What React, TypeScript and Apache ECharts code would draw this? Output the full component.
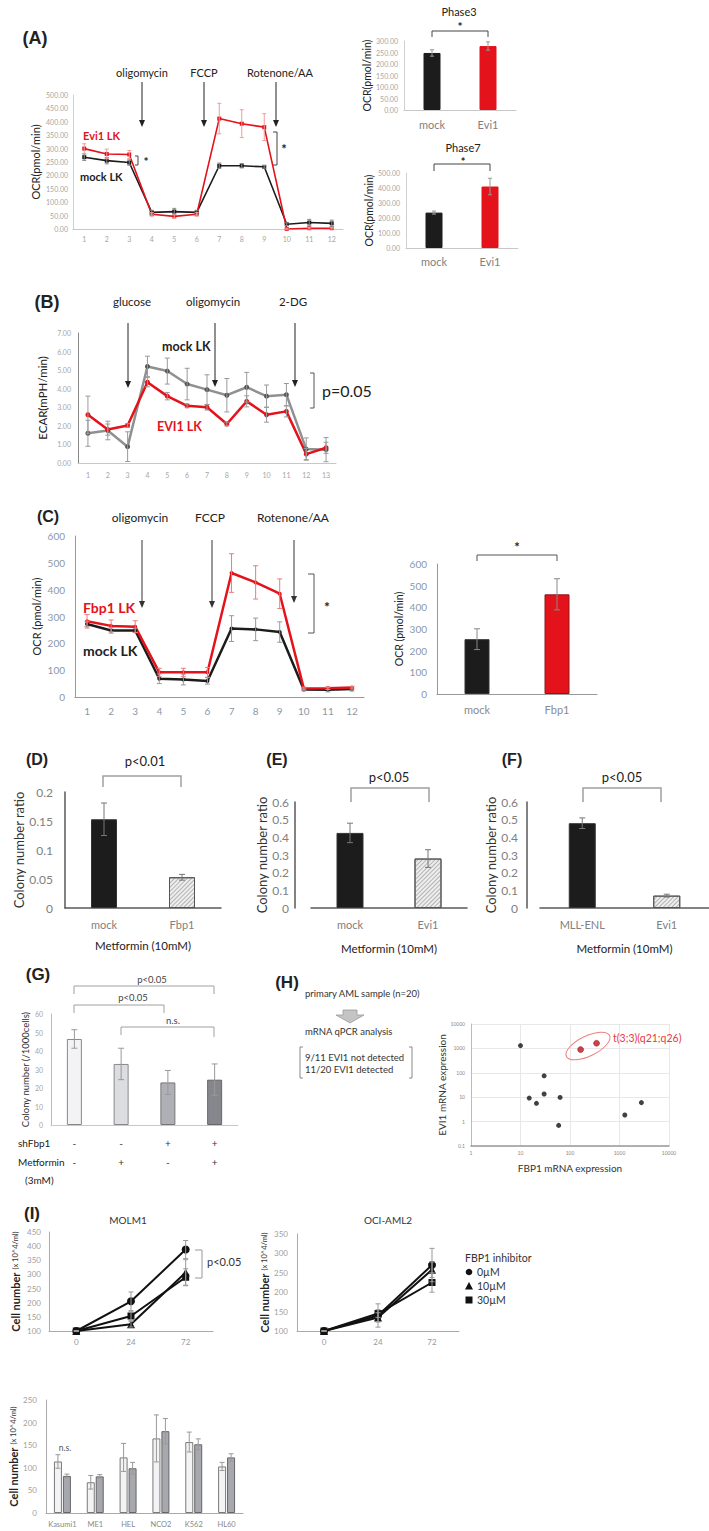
import React, { useEffect, useRef } from "react";
import * as echarts from "echarts";

const FONT = "Lato, 'Open Sans', 'Liberation Sans', sans-serif";
const HEAD = "'Liberation Sans', Arial, sans-serif";
const RED = "#e3121b";
const BLK = "#1c1c1c";

// ---------- (A) ----------
const aTimes = ["1", "2", "3", "4", "5", "6", "7", "8", "9", "10", "11", "12"];
const aEvi = [300, 280, 278, 55, 47, 55, 412, 393, 380, 0, 3, 3];
const aEviErr = [18, 18, 15, 6, 6, 6, 57, 52, 50, 3, 3, 3];
const aMock = [268, 255, 248, 62, 65, 62, 236, 236, 232, 18, 24, 21];
const aMockErr = [12, 12, 10, 8, 12, 8, 10, 8, 5, 5, 12, 12];
const phaseCats = ["mock", "Evi1"];
const phase3 = [248, 278];
const phase3Err = [14, 18];
const phase7 = [236, 410];
const phase7Err = [10, 55];

// ---------- (B) ----------
const bTimes = ["1", "2", "3", "4", "5", "6", "7", "8", "9", "10", "11", "12", "13"];
const bMock = [1.6, 1.75, 0.88, 5.2, 4.95, 4.25, 3.95, 3.65, 4.08, 3.6, 3.68, 0.75, 0.72];
const bMockErr = [0.7, 0.5, 0.8, 0.55, 0.7, 0.85, 0.8, 0.9, 0.8, 0.6, 0.6, 0.6, 0.65];
const bEvi = [2.6, 1.8, 2.02, 4.35, 3.6, 3.08, 3.0, 2.1, 3.32, 2.6, 2.78, 0.48, 0.82];
const bEviErr = [1.0, 0.3, 0.1, 0.25, 0.2, 0.1, 0.15, 0.1, 0.3, 0.4, 0.3, 0.3, 0.3];

// ---------- (C) ----------
const cTimes = ["1", "2", "3", "4", "5", "6", "7", "8", "9", "10", "11", "12"];
const cFbp = [282, 265, 262, 92, 92, 92, 462, 427, 385, 32, 33, 35];
const cFbpErr = [25, 22, 22, 15, 15, 18, 72, 62, 55, 5, 5, 5];
const cMock = [272, 248, 248, 68, 65, 60, 255, 252, 242, 28, 27, 30];
const cMockErr = [10, 10, 8, 18, 20, 12, 48, 42, 38, 5, 8, 8];
const cBarCats = ["mock", "Fbp1"];
const cBar = [253, 460];
const cBarErr = [48, 72];

// ---------- (D)(E)(F) ----------
const dCats = ["mock", "Fbp1"];
const dVals = [0.153, 0.053];
const dErr = [0.028, 0.005];
const eCats = ["mock", "Evi1"];
const eVals = [0.425, 0.28];
const eErr = [0.055, 0.05];
const fCats = ["MLL-ENL", "Evi1"];
const fVals = [0.48, 0.07];
const fErr = [0.03, 0.008];

// ---------- (G) ----------
const gGroups = ["control", "Metformin", "shFbp1", "shFbp1+Metformin"];
const gVals = [46.5, 33, 23, 24.5];
const gErr = [5, 8.5, 6.5, 8.5];
const gShFbp1 = ["-", "-", "+", "+"];
const gMet = ["-", "+", "-", "+"];

// ---------- (H) ----------
const hFbp1 = [10, 15, 21, 30, 30, 59, 63, 1280, 2770];
const hEvi1 = [1300, 9.2, 5.6, 75, 13.5, 0.7, 9.8, 1.87, 6];
const hRedFbp1 = [164, 344];
const hRedEvi1 = [896, 1625];

// ---------- (I) ----------
const iTimes = ["0", "24", "72"];
const molm0 = [100, 205, 388];
const molm0Err = [0, 33, 32];
const molm10 = [100, 124, 307];
const molm10Err = [0, 10, 45];
const molm30 = [100, 153, 290];
const molm30Err = [0, 15, 30];
const oci0 = [100, 140, 270];
const oci0Err = [0, 30, 43];
const oci10 = [100, 135, 258];
const oci10Err = [0, 12, 20];
const oci30 = [100, 145, 225];
const oci30Err = [0, 10, 25];
const lineCats = ["Kasumi1", "ME1", "HEL", "NCO2", "K562", "HL60"];
const ctrlVals = [114, 68, 123, 165, 157, 103];
const ctrlErr = [15, 15, 31, 52, 22, 9];
const inhVals = [82, 81, 99, 181, 152, 123];
const inhErr = [4, 4, 13, 28, 12, 8];

// ---------- helpers ----------
function catX(gi: number, data: string[], o: any) {
  return {
    type: "category",
    gridIndex: gi,
    data,
    axisTick: { show: false },
    axisLine: { lineStyle: { color: o.line || "#bbb", width: o.lw || 1 } },
    axisLabel: {
      fontSize: o.size,
      color: o.color,
      margin: o.margin,
      fontFamily: FONT,
      interval: 0,
      lineHeight: o.lineHeight,
      formatter: o.formatter,
    },
    name: o.name,
    nameLocation: "middle",
    nameGap: o.nameGap,
    nameTextStyle: { fontSize: o.nameSize || 11, color: "#222", fontFamily: FONT },
  };
}

function valY(gi: number, min: number, max: number, interval: number, o: any) {
  return {
    type: "value",
    gridIndex: gi,
    min,
    max,
    interval,
    offset: o.offset || 0,
    splitLine: { show: false },
    axisTick: { show: false },
    axisLine: { show: true, lineStyle: { color: o.line || "#bbb", width: o.lw || 1 } },
    axisLabel: {
      fontSize: o.size,
      color: o.color,
      margin: o.margin,
      fontFamily: FONT,
      formatter: o.formatter,
    },
    name: o.name,
    nameLocation: "middle",
    nameGap: o.nameGap,
    nameTextStyle: o.nameStyle || { fontSize: o.nameSize || 11, color: "#222", fontFamily: FONT },
  };
}

function errBars(gi: number, vals: number[], errs: number[], color: string, offset = 0, cap = 3, width = 1) {
  return {
    type: "custom",
    xAxisIndex: gi,
    yAxisIndex: gi,
    z: 4,
    silent: true,
    clip: false,
    data: vals.map((v, i) => [i, v, errs[i]]),
    renderItem: (_p: any, api: any) => {
      const i = api.value(0);
      const v = api.value(1);
      const e = api.value(2);
      const t = api.coord([i, v + e]);
      const b = api.coord([i, v - e]);
      const x = t[0] + offset;
      const st = { stroke: color, lineWidth: width };
      return {
        type: "group",
        children: [
          { type: "line", shape: { x1: x, y1: t[1], x2: x, y2: b[1] }, style: st },
          { type: "line", shape: { x1: x - cap, y1: t[1], x2: x + cap, y2: t[1] }, style: st },
          { type: "line", shape: { x1: x - cap, y1: b[1], x2: x + cap, y2: b[1] }, style: st },
        ],
      };
    },
  };
}

function lineS(gi: number, name: string, data: number[], color: string, width: number, symbol: string, size: number, symColor?: string) {
  return {
    type: "line",
    name,
    xAxisIndex: gi,
    yAxisIndex: gi,
    data,
    symbol,
    symbolSize: size,
    showSymbol: true,
    lineStyle: { color, width },
    itemStyle: { color: symColor || color },
    z: 3,
  };
}

function barS(gi: number, name: string, data: number[], styles: any[], barWidth: number, extra: any = {}) {
  return {
    type: "bar",
    name,
    xAxisIndex: gi,
    yAxisIndex: gi,
    barWidth,
    data: data.map((v, i) => ({ value: v, itemStyle: styles[i] })),
    z: 2,
    ...extra,
  };
}

function T(x: number, y: number, text: string, o: any = {}) {
  const align = o.align || "center";
  return {
    type: "text",
    x,
    y,
    rotation: o.rot || 0,
    z: 10,
    style: {
      text,
      fill: o.color || "#222",
      fontSize: o.size || 11,
      fontWeight: o.weight || "normal",
      fontFamily: o.family || FONT,
      textAlign: align,
      align,
      textVerticalAlign: "middle",
      verticalAlign: "middle",
    },
  };
}

function PL(pts: number[][], color = "#333", w = 1) {
  return { type: "polyline", z: 10, shape: { points: pts }, style: { stroke: color, lineWidth: w, fill: null } };
}

function arrow(x: number, y1: number, y2: number, color = "#222") {
  return [
    { type: "line", z: 10, shape: { x1: x, y1, x2: x, y2: y2 - 5 }, style: { stroke: color, lineWidth: 1 } },
    { type: "polygon", z: 10, shape: { points: [[x - 3, y2 - 7], [x + 3, y2 - 7], [x, y2]] }, style: { fill: color } },
  ];
}

const fixed2 = (v: number) => v.toFixed(2);

function buildOption() {
  const grid = [
    [73, 95, 270, 134],
    [404, 41, 112, 69],
    [406, 173, 112, 75],
    [78, 333, 258, 130],
    [75, 536, 289, 161],
    [437, 564, 160, 130],
    [65, 792, 156, 116],
    [311, 802, 156, 106],
    [540, 802, 170, 106],
    [51, 1014, 187, 111],
    [471, 1024, 198, 122],
    [49, 1232, 164, 99],
    [297, 1234, 162, 97],
    [46, 1400, 197, 113],
  ].map(([left, top, width, height]) => ({ left, top, width, height }));

  const dfLine = { line: "#595959", lw: 1.5 };
  const xAxis: any[] = [
    catX(0, aTimes, { size: 7, color: "#a6a6a6", margin: 6, line: "#c8c8c8" }),
    catX(1, phaseCats, { size: 11, color: "#7f7f7f", margin: 9, line: "#c8c8c8" }),
    catX(2, phaseCats, { size: 11, color: "#7f7f7f", margin: 8, line: "#c8c8c8" }),
    catX(3, bTimes, { size: 7, color: "#a6a6a6", margin: 8, line: "#c8c8c8" }),
    catX(4, cTimes, { size: 10, color: "#8a98a8", margin: 9, line: "#999" }),
    catX(5, cBarCats, { size: 11, color: "#8a8a8a", margin: 10, line: "#999" }),
    catX(6, dCats, { size: 11, color: "#808080", margin: 11, ...dfLine, name: "Metformin (10mM)", nameGap: 31, nameSize: 11.5 }),
    catX(7, eCats, { size: 11, color: "#808080", margin: 11, ...dfLine, name: "Metformin (10mM)", nameGap: 34, nameSize: 11.5 }),
    catX(8, fCats, { size: 11, color: "#808080", margin: 11, ...dfLine, name: "Metformin (10mM)", nameGap: 34, nameSize: 11.5 }),
    catX(9, gGroups, {
      size: 10,
      color: "#333",
      margin: 8,
      line: "#c8c8c8",
      lineHeight: 19,
      formatter: (_v: string, i: number) => `${gShFbp1[i]}\n${gMet[i]}`,
    }),
    {
      type: "log",
      logBase: 10,
      gridIndex: 10,
      min: 1,
      max: 10000,
      axisTick: { show: false },
      axisLine: { lineStyle: { color: "#999", width: 1.5 } },
      splitLine: { show: true, lineStyle: { color: "#e8e8e8" } },
      axisLabel: { fontSize: 5, color: "#888", margin: 4, formatter: (v: number) => String(Number(v.toPrecision(6))) },
      name: "FBP1 mRNA expression",
      nameLocation: "middle",
      nameGap: 17,
      nameTextStyle: { fontSize: 10, color: "#333", fontFamily: FONT },
    },
    catX(11, iTimes, { size: 8, color: "#999", margin: 7, line: "#aaa" }),
    catX(12, iTimes, { size: 8, color: "#999", margin: 7, line: "#aaa" }),
    catX(13, lineCats, { size: 7.5, color: "#888", margin: 7, line: "#aaa" }),
  ];

  const ocrName = { fontSize: 11, color: "#222", fontFamily: FONT };
  const colName = { fontSize: 13, color: "#333", fontFamily: FONT };
  const cellName = {
    rich: {
      a: { fontSize: 11, fontWeight: "bold", color: "#222", fontFamily: FONT },
      b: { fontSize: 7.5, color: "#333", fontFamily: FONT },
    },
  };
  const yAxis: any[] = [
    valY(0, 0, 500, 50, { size: 7, color: "#a6a6a6", margin: 5, line: "#d0d0d0", formatter: fixed2, name: "OCR(pmol/min)", nameGap: 32, nameStyle: ocrName }),
    valY(1, 0, 300, 50, { size: 7, color: "#a6a6a6", margin: 6, line: "#d0d0d0", formatter: fixed2, name: "OCR(pmol/min)", nameGap: 20, nameStyle: { ...ocrName, fontSize: 10.5 } }),
    valY(2, 0, 500, 100, { size: 7, color: "#a6a6a6", margin: 6, line: "#d0d0d0", formatter: fixed2, name: "OCR(pmol/min)", nameGap: 30, nameStyle: { ...ocrName, fontSize: 10.5 } }),
    valY(3, 0, 7, 1, { size: 7, color: "#a6a6a6", margin: 7, line: "#888", formatter: fixed2, name: "ECAR(mPH/min)", nameGap: 30, nameStyle: { ...ocrName, fontSize: 11.5 } }),
    valY(4, 0, 600, 100, { size: 10, color: "#8a98a8", margin: 10, line: "#999", name: "OCR (pmol/min)", nameGap: 33, nameStyle: ocrName }),
    valY(5, 0, 600, 100, { size: 10, color: "#8a98a8", margin: 10, line: "#999", name: "OCR (pmol/min)", nameGap: 33, nameStyle: { ...ocrName, fontSize: 10.5 } }),
    valY(6, 0, 0.2, 0.05, { size: 12, color: "#808080", margin: 12, ...dfLine, name: "Colony number ratio", nameGap: 36, nameStyle: colName }),
    valY(7, 0, 0.6, 0.1, { size: 12, color: "#808080", margin: 6, offset: 16, ...dfLine, name: "Colony number ratio", nameGap: 19, nameStyle: colName }),
    valY(8, 0, 0.6, 0.1, { size: 12, color: "#808080", margin: 9, offset: 13, ...dfLine, name: "Colony number ratio", nameGap: 13, nameStyle: colName }),
    valY(9, 0, 60, 10, { size: 7, color: "#a6a6a6", margin: 8, line: "#bbb", name: "Colony number (/1000cells)", nameGap: 21, nameStyle: { fontSize: 9.5, color: "#333", fontFamily: FONT } }),
    {
      type: "log",
      logBase: 10,
      gridIndex: 10,
      min: 0.1,
      max: 10000,
      axisTick: { show: false },
      axisLine: { show: true, lineStyle: { color: "#bbb" } },
      splitLine: { show: true, lineStyle: { color: "#e8e8e8" } },
      axisLabel: { fontSize: 5, color: "#888", margin: 6, formatter: (v: number) => String(Number(v.toPrecision(6))) },
      name: "EVI1 mRNA expression",
      nameLocation: "middle",
      nameGap: 17,
      nameTextStyle: { fontSize: 10, color: "#333", fontFamily: FONT },
    },
    valY(11, 100, 450, 50, { size: 8, color: "#a0a0a0", margin: 8, line: "#aaa", name: "{a|Cell number} {b|(x 10^4/ml)}", nameGap: 28, nameStyle: cellName }),
    valY(12, 100, 350, 50, { size: 8, color: "#a0a0a0", margin: 9, line: "#aaa", name: "{a|Cell number} {b|(x 10^4/ml)}", nameGap: 26, nameStyle: cellName }),
    valY(13, 0, 250, 50, { size: 8, color: "#a0a0a0", margin: 9, line: "#aaa", name: "{a|Cell number} {b|(x 10^4/ml)}", nameGap: 25, nameStyle: cellName }),
  ];

  const solid = (c: string, b?: string) => ({ color: c, borderColor: b || c, borderWidth: 1 });
  const hatch = {
    color: "#eeeeee",
    borderColor: "#555",
    borderWidth: 1,
    decal: {
      symbol: "rect",
      symbolSize: 1,
      dashArrayX: [1, 0],
      dashArrayY: [1, 2],
      rotation: -Math.PI / 4,
      color: "rgba(130,130,130,0.55)",
    },
  };
  const lightBar = solid("#f3f3f5", "#7a7a7a");
  const darkBar = solid("#a6a8ae", "#666");

  const series: any[] = [
    // A line
    errBars(0, aMock, aMockErr, "#888", 0, 2),
    errBars(0, aEvi, aEviErr, "#f29a9a", 0, 2),
    lineS(0, "mock LK", aMock, BLK, 1.6, "rect", 4),
    lineS(0, "Evi1 LK", aEvi, RED, 1.6, "rect", 4),
    // Phase3 / Phase7
    barS(1, "Phase3", phase3, [solid(BLK), solid(RED)], 17),
    errBars(1, phase3, phase3Err, "#999", 0, 2),
    barS(2, "Phase7", phase7, [solid(BLK), solid(RED)], 17),
    errBars(2, phase7, phase7Err, "#999", 0, 2),
    // B
    errBars(3, bMock, bMockErr, "#9a9a9a", 0, 2.5),
    errBars(3, bEvi, bEviErr, "#9a9a9a", 0, 2.5),
    lineS(3, "mock LK", bMock, "#909090", 2.5, "circle", 5, "#555"),
    lineS(3, "EVI1 LK", bEvi, RED, 2.5, "circle", 5),
    // C
    errBars(4, cMock, cMockErr, "#999", 0, 2.5),
    errBars(4, cFbp, cFbpErr, "#f07a7a", 0, 2.5),
    lineS(4, "mock LK", cMock, BLK, 2.5, "circle", 4),
    lineS(4, "Fbp1 LK", cFbp, RED, 2.5, "circle", 4),
    barS(5, "OCR", cBar, [solid(BLK, "#333"), solid(RED, "#8a1a1a")], 25),
    errBars(5, cBar, cBarErr, "#888", 0, 3),
    // D E F
    barS(6, "ratio", dVals, [solid(BLK, "#333"), hatch], 26),
    errBars(6, dVals, dErr, "#777", 0, 3),
    barS(7, "ratio", eVals, [solid(BLK, "#333"), hatch], 27),
    errBars(7, eVals, eErr, "#777", 0, 3),
    barS(8, "ratio", fVals, [solid(BLK, "#333"), hatch], 27),
    errBars(8, fVals, fErr, "#777", 0, 3),
    // G
    barS(9, "colonies", gVals, [solid("#f3f3f5", "#888"), solid("#dcdde1", "#888"), solid("#aeb0b6", "#777"), solid("#85878d", "#666")], 15),
    errBars(9, gVals, gErr, "#999", 0, 3),
    // H
    {
      type: "scatter",
      name: "AML",
      xAxisIndex: 10,
      yAxisIndex: 10,
      data: hFbp1.map((x, i) => [x, hEvi1[i]]),
      symbolSize: 5,
      itemStyle: { color: "#111" },
    },
    {
      type: "scatter",
      name: "t(3;3)",
      xAxisIndex: 10,
      yAxisIndex: 10,
      data: hRedFbp1.map((x, i) => [x, hRedEvi1[i]]),
      symbolSize: 6,
      itemStyle: { color: "#c0121b", borderColor: "#7a0a0a", borderWidth: 0.5 },
    },
    // I MOLM1
    errBars(11, molm0, molm0Err, "#999", 0, 2.5),
    errBars(11, molm10, molm10Err, "#999", 0, 2.5),
    errBars(11, molm30, molm30Err, "#999", 0, 2.5),
    lineS(11, "0µM", molm0, "#111", 2, "circle", 8),
    lineS(11, "10µM", molm10, "#111", 2, "triangle", 8),
    lineS(11, "30µM", molm30, "#111", 2, "rect", 7),
    // I OCI-AML2
    errBars(12, oci0, oci0Err, "#999", 0, 2.5),
    errBars(12, oci10, oci10Err, "#999", 0, 2.5),
    errBars(12, oci30, oci30Err, "#999", 0, 2.5),
    lineS(12, "0µM", oci0, "#111", 2, "circle", 8),
    lineS(12, "10µM", oci10, "#111", 2, "triangle", 8),
    lineS(12, "30µM", oci30, "#111", 2, "rect", 7),
    // I bottom bars
    barS(13, "0µM", ctrlVals, ctrlVals.map(() => lightBar), 8, { barGap: "12%" }),
    barS(13, "inhibitor", inhVals, inhVals.map(() => darkBar), 8, { barGap: "12%" }),
    errBars(13, ctrlVals, ctrlErr, "#999", -4.5, 2.5),
    errBars(13, inhVals, inhErr, "#999", 4.5, 2.5),
  ];

  const g: any[] = [
    // (A)
    T(35, 38, "(A)", { size: 18, weight: "bold", family: HEAD }),
    T(142, 72, "oligomycin", { size: 11 }),
    T(204, 72, "FCCP", { size: 11 }),
    T(280, 72, "Rotenone/AA", { size: 11 }),
    ...arrow(142, 82, 127),
    ...arrow(204, 82, 127),
    ...arrow(276, 82, 127),
    T(83, 135, "Evi1 LK", { align: "left", color: RED, weight: "bold", size: 11 }),
    T(80, 176, "mock LK", { align: "left", color: BLK, weight: "bold", size: 11 }),
    PL([[135, 156], [138, 156], [138, 165], [135, 165]], "#444"),
    T(146, 161, "*", { size: 12, weight: "bold" }),
    PL([[273, 132], [277, 132], [277, 165], [273, 165]], "#444"),
    T(284, 149, "*", { size: 13, weight: "bold" }),
    T(459, 11, "Phase3", { size: 11 }),
    PL([[432, 37], [432, 31], [488, 31], [488, 37]], "#444"),
    T(460, 26, "*", { size: 12, weight: "bold" }),
    T(463, 147, "Phase7", { size: 11 }),
    PL([[434, 171], [434, 164], [490, 164], [490, 171]], "#444"),
    T(463, 161, "*", { size: 11, weight: "bold" }),
    // (B)
    T(47, 302, "(B)", { size: 18, weight: "bold", family: HEAD }),
    T(132, 301, "glucose", { size: 11.5 }),
    T(213, 301, "oligomycin", { size: 11.5 }),
    T(293, 301, "2-DG", { size: 11.5 }),
    ...arrow(128, 323, 388),
    ...arrow(215, 323, 387),
    ...arrow(295, 323, 387),
    T(162, 346, "mock LK", { align: "left", weight: "bold", size: 12.5 }),
    T(157, 426, "EVI1 LK", { align: "left", weight: "bold", size: 12.5, color: RED }),
    PL([[310, 373], [314, 373], [314, 408], [310, 408]], "#555"),
    T(322, 390, "p=0.05", { align: "left", size: 16 }),
    // (C)
    T(48, 516, "(C)", { size: 16, weight: "bold", family: HEAD }),
    T(140, 517, "oligomycin", { size: 12 }),
    T(210, 517, "FCCP", { size: 12 }),
    T(293, 517, "Rotenone/AA", { size: 12 }),
    ...arrow(142, 540, 608, "#333"),
    ...arrow(212, 540, 608, "#333"),
    ...arrow(294, 540, 603, "#333"),
    T(83, 607, "Fbp1 LK", { align: "left", weight: "bold", size: 14, color: RED }),
    T(83, 650, "mock LK", { align: "left", weight: "bold", size: 14 }),
    PL([[308, 574], [314, 574], [314, 633], [308, 633]], "#555"),
    T(327, 606, "*", { size: 14, weight: "bold" }),
    PL([[477, 561], [477, 555], [557, 555], [557, 561]], "#555"),
    T(517, 547, "*", { size: 13, weight: "bold" }),
    // (D)(E)(F)
    T(37, 759, "(D)", { size: 16, weight: "bold", family: HEAD }),
    T(145, 761, "p<0.01", { size: 13 }),
    PL([[103, 787], [103, 776], [181, 776], [181, 787]], "#a0a0a0", 1.5),
    T(277, 759, "(E)", { size: 16, weight: "bold", family: HEAD }),
    T(389, 777, "p<0.05", { size: 13 }),
    PL([[351, 802], [351, 788], [429, 788], [429, 802]], "#a0a0a0", 1.5),
    T(512, 759, "(F)", { size: 16, weight: "bold", family: HEAD }),
    T(622, 777, "p<0.05", { size: 13 }),
    PL([[583, 802], [583, 788], [661, 788], [661, 802]], "#a0a0a0", 1.5),
    // (G)
    T(38, 974, "(G)", { size: 17, weight: "bold", family: HEAD }),
    T(152, 979, "p<0.05", { size: 9.5, color: "#444" }),
    PL([[74, 994], [74, 986], [214, 986], [214, 994]], "#a0a0a0", 1),
    T(133, 997, "p<0.05", { size: 9.5, color: "#444" }),
    PL([[74, 1013], [74, 1005], [164, 1005], [164, 1013]], "#a0a0a0", 1),
    T(173, 1020, "n.s.", { size: 9.5, color: "#345" }),
    PL([[121, 1035], [121, 1027], [214, 1027], [214, 1037]], "#a0a0a0", 1),
    T(18, 1143, "shFbp1", { align: "left", size: 10 }),
    T(18, 1162, "Metformin", { align: "left", size: 10 }),
    T(25, 1180, "(3mM)", { align: "left", size: 10 }),
    // (H)
    T(287, 982, "(H)", { size: 17, weight: "bold", family: HEAD }),
    T(305, 993, "primary AML sample (n=20)", { align: "left", size: 9.5, color: "#333" }),
    {
      type: "polygon",
      z: 10,
      shape: { points: [[343, 1010], [357, 1010], [357, 1015], [364, 1015], [350, 1023], [336, 1015], [343, 1015]] },
      style: { fill: "#c4c4c4", stroke: "#9a9a9a", lineWidth: 0.8 },
    },
    T(305, 1031, "mRNA qPCR analysis", { align: "left", size: 9.5, color: "#333" }),
    PL([[303, 1047], [300, 1047], [300, 1078], [303, 1078]], "#888"),
    PL([[409, 1047], [412, 1047], [412, 1078], [409, 1078]], "#888"),
    T(305, 1057, "9/11 EVI1 not detected", { align: "left", size: 9.5, color: "#333" }),
    T(305, 1069, "11/20 EVI1 detected", { align: "left", size: 9.5, color: "#333" }),
    {
      type: "ellipse",
      z: 10,
      x: 588,
      y: 1046,
      rotation: 0.45,
      shape: { cx: 0, cy: 0, rx: 24, ry: 10 },
      style: { stroke: "#f08080", fill: null, lineWidth: 1 },
    },
    T(613, 1038, "t(3;3)(q21;q26)", { align: "left", size: 10.5, color: "#e8383d" }),
    // (I)
    T(32, 1213, "(I)", { size: 17, weight: "bold", family: HEAD }),
    T(128, 1220, "MOLM1", { size: 10, color: "#333" }),
    PL([[195, 1250], [202, 1250], [202, 1278], [195, 1278]], "#999"),
    T(207, 1261, "p<0.05", { align: "left", size: 11, color: "#333" }),
    T(388, 1220, "OCI-AML2", { size: 10, color: "#333" }),
    T(465, 1258, "FBP1 inhibitor", { align: "left", size: 10.5, color: "#333" }),
    { type: "circle", z: 10, shape: { cx: 469, cy: 1272, r: 3.3 }, style: { fill: "#111" } },
    T(477, 1272, "0µM", { align: "left", size: 10.5, color: "#333" }),
    { type: "polygon", z: 10, shape: { points: [[469, 1282], [465, 1289.5], [473, 1289.5]] }, style: { fill: "#111" } },
    T(477, 1286, "10µM", { align: "left", size: 10.5, color: "#333" }),
    { type: "rect", z: 10, shape: { x: 465.5, y: 1296.5, width: 7, height: 7 }, style: { fill: "#111" } },
    T(477, 1300, "30µM", { align: "left", size: 10.5, color: "#333" }),
    T(65, 1448, "n.s.", { size: 8.5, color: "#555" }),
  ];

  return {
    animation: false,
    backgroundColor: "#ffffff",
    textStyle: { fontFamily: FONT },
    grid,
    xAxis,
    yAxis,
    series,
    graphic: { elements: g },
  };
}

export default function App() {
  const ref = useRef<HTMLDivElement>(null);
  useEffect(() => {
    const chart = echarts.init(ref.current as HTMLDivElement, null, { renderer: "svg" });
    chart.setOption(buildOption() as any);
    return () => chart.dispose();
  }, []);
  return (
    <div
      ref={ref}
      style={{ position: "absolute", left: 0, top: 0, width: 709, height: 1531, background: "#fff" }}
    />
  );
}
